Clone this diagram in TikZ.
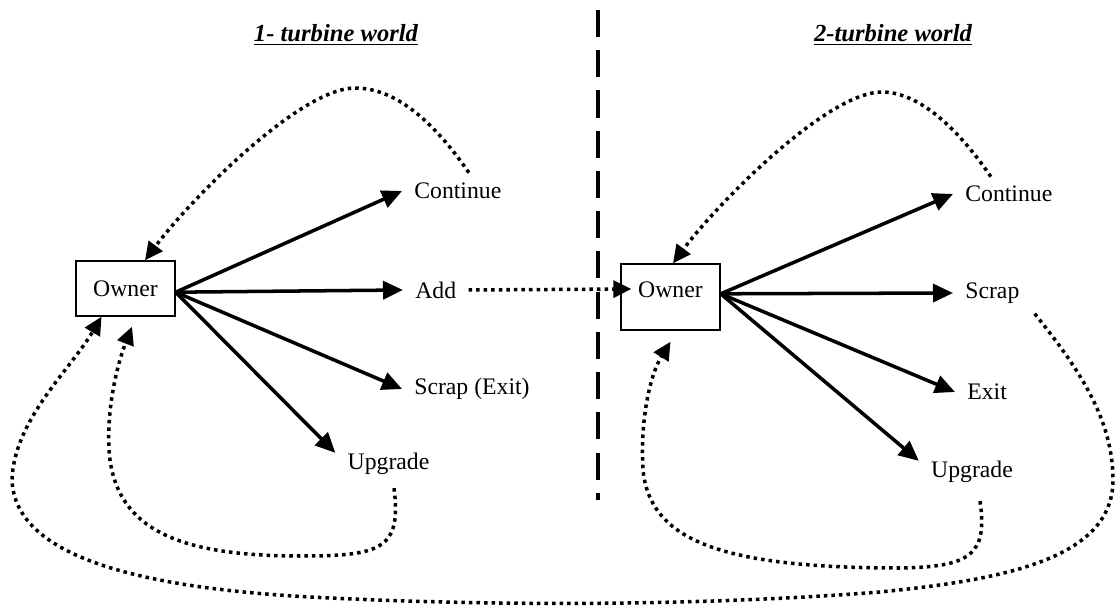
\documentclass[tikz,border=0pt]{standalone}
\usepackage{fontspec}
\setmainfont{Liberation Serif}
\usetikzlibrary{arrows.meta}
\begin{document}
\begin{tikzpicture}[x=0.02cm,y=-0.02cm]
\tikzset{boite/.style={draw, line width=0.8pt, minimum width=1.98cm, inner sep=0pt, font=\fontsize{13.5}{15}\selectfont},
choix/.style={inner xsep=0.24cm, inner ysep=0pt, font=\fontsize{13.5}{15}\selectfont},
titre/.style={font=\fontsize{14}{16}\selectfont\bfseries\itshape},
fleche/.style={line width=2pt, -{Triangle[length=0.4cm,width=0.36cm]}},
retour/.style={line width=2pt, dash pattern=on 2pt off 2.3pt, -{Triangle[length=0.36cm,width=0.34cm]}}}
\useasboundingbox (0,0) rectangle (1117,607);
\node[titre] (monde1) at (336,35) {\underline{1- turbine world}};
\node[titre] (monde2) at (893,35) {\underline{2-turbine world}};
\draw[line width=2.2pt, dash pattern=on 15.4pt off 7.5pt] (598,10) -- (598,500);
\node[boite, minimum height=1.1cm] (P1) at (125.5,288.5) {Owner};
\node[choix, anchor=west] (C1) at (402,191) {Continue};
\node[choix, anchor=west] (A1) at (403,290) {Add};
\node[choix, anchor=west] (S1) at (402,389) {Scrap (Exit)};
\node[choix] (U1) at (388.5,464) {Upgrade};
\node[boite, minimum height=1.32cm, text depth=0.28cm] (P2) at (670.5,297) {Owner};
\node[choix, anchor=west] (C2) at (953,194) {Continue};
\node[choix, anchor=west] (S2) at (953,293) {Scrap};
\node[choix, anchor=west] (E2) at (955,392) {Exit};
\node[choix] (U2) at (972,472) {Upgrade};
\draw[fleche] (P1.mid east) -- (C1.west);
\draw[fleche] (P1.mid east) -- (A1.west);
\draw[fleche] (P1.mid east) -- (S1.west);
\draw[fleche] (P1.mid east) -- (U1.north west);
\draw[fleche] (P2.mid east) -- (C2.west);
\draw[fleche] (P2.mid east) -- (S2.west);
\draw[fleche] (P2.mid east) -- (E2.west);
\draw[fleche] (P2.mid east) -- (U2.north west);
\draw[retour] ([shift={(11,-10)}]C1.north) .. controls (430,116) and (392,88) .. (355,88) .. controls (300,88) and (190,200) .. ([shift={(19.5,0)}]P1.north);
\draw[retour] ([shift={(-18,-9)}]C2.north) .. controls (952,120) and (914,92) .. (882,92) .. controls (827,92) and (717,204) .. ([shift={(2.5,0)}]P2.north);
\draw[retour] (A1.east) -- ([shift={(11,-8)}]P2.west);
\draw[retour] ([shift={(5.5,13)}]U1.south) .. controls (402,550) and (380,556) .. (300,556) .. controls (180,556) and (120,530) .. (110,460) .. controls (105,420) and (115,370) .. ([shift={(6.5,10)}]P1.south);
\draw[retour] ([shift={(8,18)}]U2.south) .. controls (988,555) and (970,567) .. (900,568) .. controls (720,568) and (650,540) .. (643,470) .. controls (640,420) and (650,375) .. ([shift={(0,11)}]P2.south);
\draw[retour] ([shift={(3,10)}]S2.south east) .. controls (1080,370) and (1113,420) .. (1113,480) .. controls (1113,560) and (1000,580) .. (880,592) .. controls (700,606) and (500,606) .. (330,598) .. controls (150,590) and (15,560) .. (12,480) .. controls (14,420) and (70,370) .. ([shift={(-24,0)}]P1.south);
\end{tikzpicture}
\end{document}
